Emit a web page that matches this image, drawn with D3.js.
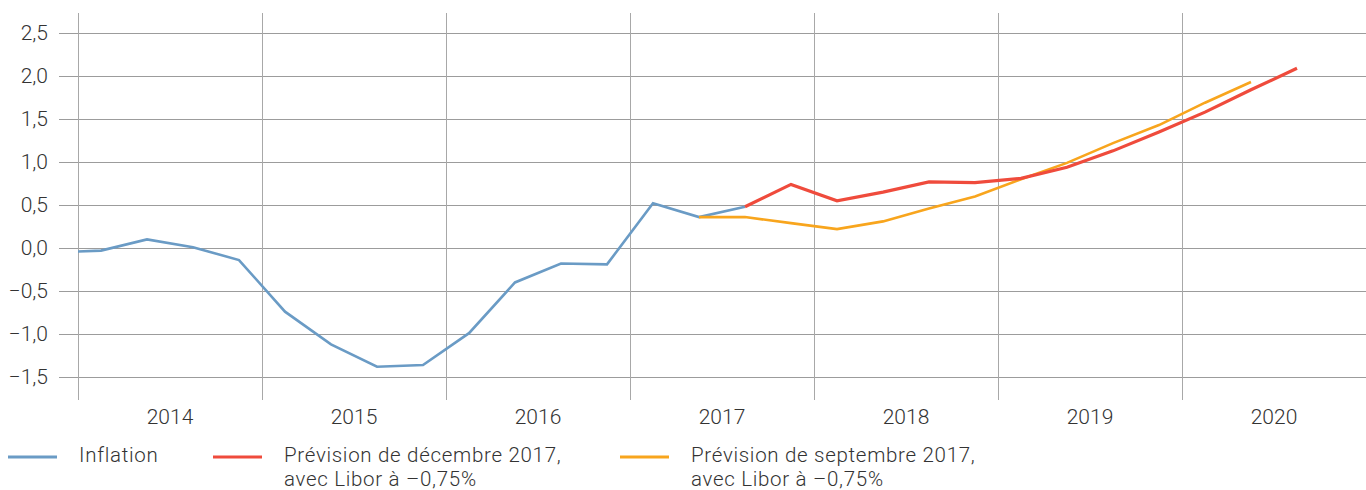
<!DOCTYPE html>
<html>
<head>
<meta charset="utf-8">
<script src="https://cdn.jsdelivr.net/npm/d3@7"></script>
<style>
  body { margin: 0; background: #fff; }
  text { font-family: Roboto, "Noto Sans", sans-serif; font-weight: 300; fill: #333; }
</style>
</head>
<body>
<div id="chart"></div>
<script>
// quarters are written as "year Tq"
let inflation_quarters = ["2013 T4","2014 T1","2014 T2","2014 T3","2014 T4","2015 T1","2015 T2","2015 T3","2015 T4",
    "2016 T1","2016 T2","2016 T3","2016 T4","2017 T1","2017 T2","2017 T3"]
let inflation_values = [-0.05,-0.03,0.10,0.01,-0.14,-0.74,-1.12,-1.38,-1.36,-0.99,-0.40,-0.18,-0.19,0.52,0.36,0.48]

let dec_quarters = ["2017 T3","2017 T4","2018 T1","2018 T2","2018 T3","2018 T4","2019 T1","2019 T2","2019 T3","2019 T4",
    "2020 T1","2020 T2","2020 T3"]
let dec_values = [0.48,0.74,0.55,0.65,0.77,0.76,0.81,0.94,1.13,1.35,1.58,1.84,2.09]

let sep_quarters = ["2017 T2","2017 T3","2017 T4","2018 T1","2018 T2","2018 T3","2018 T4","2019 T1","2019 T2","2019 T3",
    "2019 T4","2020 T1","2020 T2"]
let sep_values = [0.36,0.36,0.29,0.22,0.31,0.46,0.60,0.80,0.99,1.22,1.43,1.69,1.93]

let years = [2014,2015,2016,2017,2018,2019,2020]
let y_ticks = [-1.5,-1.0,-0.5,0,0.5,1.0,1.5,2.0,2.5]

let legend_items = [
    {label: ["Inflation"], color: "#6a9bc5"},
    {label: ["Prévision de décembre 2017,", "avec Libor à \u20130,75%"], color: "#ef4b3c"},
    {label: ["Prévision de septembre 2017,", "avec Libor à \u20130,75%"], color: "#f8a51d"}
]

function quarter_pos(q){
    let parts = q.split(" T")
    return +parts[0] + (+parts[1] - 0.5) / 4
}

function series(quarters, values){
    return quarters.map(function(q, i){ return {t: quarter_pos(q), v: values[i]} })
}

let svgWidth = 1366, svgHeight = 490
let plot = {left: 78, right: 1366, top: 13, bottom: 400}

let x = d3.scaleLinear().domain([2014, 2021]).range([plot.left, plot.right])
let y = d3.scaleLinear().domain([-1.767, 2.733]).range([plot.bottom, plot.top])

let svg = d3.select('#chart').append('svg')
    .attr('width', svgWidth)
    .attr('height', svgHeight)

svg.append('clipPath').attr('id', 'plot-clip')
    .append('rect')
    .attr('x', plot.left).attr('y', 0)
    .attr('width', plot.right - plot.left).attr('height', svgHeight)

// horizontal grid + labels
let yAxis = svg.append('g')
    .attr('transform', `translate(${plot.right},0)`)
    .call(d3.axisLeft(y).tickValues(y_ticks).tickSize(plot.right - 59).tickPadding(11)
        .tickFormat(function(d){ return d3.format('.1f')(d).replace('.', ',').replace('-', '\u2013') }))
yAxis.select('.domain').remove()
yAxis.selectAll('line').attr('stroke', '#9c9c9c').attr('shape-rendering', 'crispEdges')
yAxis.selectAll('text').attr('font-size', 21).attr('fill', '#333').attr('font-family', null)

// vertical grid (year boundaries)
let xAxis = svg.append('g')
    .attr('transform', `translate(0,${plot.bottom})`)
    .call(d3.axisBottom(x).tickValues(d3.range(2014, 2022)).tickSize(-(plot.bottom - plot.top)).tickFormat(''))
xAxis.select('.domain').remove()
xAxis.selectAll('line').attr('stroke', '#a8a8a8').attr('shape-rendering', 'crispEdges')

// year labels centred in each year
svg.append('g').selectAll('text')
    .data(years)
    .join('text')
    .attr('x', function(d){ return x(d + 0.5) })
    .attr('y', 424)
    .attr('text-anchor', 'middle')
    .attr('font-size', 21)
    .text(function(d){ return d })

let line = d3.line()
    .x(function(d){ return x(d.t) })
    .y(function(d){ return y(d.v) })

let lines = svg.append('g').attr('clip-path', 'url(#plot-clip)')

lines.append('path').datum(series(inflation_quarters, inflation_values))
    .attr('d', line).attr('fill', 'none').attr('stroke', legend_items[0].color).attr('stroke-width', 2.6)

lines.append('path').datum(series(sep_quarters, sep_values))
    .attr('d', line).attr('fill', 'none').attr('stroke', legend_items[2].color).attr('stroke-width', 2.6)

lines.append('path').datum(series(dec_quarters, dec_values))
    .attr('d', line).attr('fill', 'none').attr('stroke', legend_items[1].color).attr('stroke-width', 3.2)

// legend
let legend_x = [8, 213, 620]
let legend = svg.append('g').selectAll('g')
    .data(legend_items)
    .join('g')
    .attr('transform', function(d, i){ return `translate(${legend_x[i]},457)` })

legend.append('line')
    .attr('x1', 0).attr('x2', 49)
    .attr('stroke', function(d){ return d.color })
    .attr('stroke-width', 3)

legend.append('text')
    .attr('x', 71)
    .attr('font-size', 20.5)
    .attr('letter-spacing', 0.7)
    .selectAll('tspan')
    .data(function(d){ return d.label })
    .join('tspan')
    .attr('x', 71)
    .attr('y', function(d, i){ return 5 + i * 24 })
    .text(function(d){ return d })
</script>
</body>
</html>
